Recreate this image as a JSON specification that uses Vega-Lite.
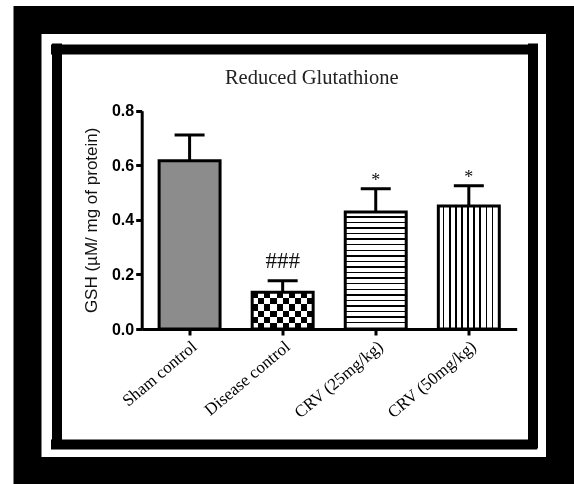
{
  "$schema": "https://vega.github.io/schema/vega-lite/v6.json",
  "width": 532.5,
  "height": 451,
  "autosize": {"type": "none"},
  "padding": {"left": 27.5, "top": 20, "right": 14, "bottom": 13},
  "background": "white",
  "title": {"text": "Reduced Glutathione", "font": "Liberation Serif", "fontSize": 20.5, "fontWeight": "normal", "color": "#222", "anchor": "middle", "frame": "group", "dx": 18, "offset": -84, "baseline": "alphabetic"},
  "data": {"values": [
    {"group": "Sham control", "mean": 0.617, "upper": 0.711, "sig": ""},
    {"group": "Disease control", "mean": 0.135, "upper": 0.177, "sig": "###"},
    {"group": "CRV (25mg/kg)", "mean": 0.429, "upper": 0.514, "sig": "*"},
    {"group": "CRV (50mg/kg)", "mean": 0.451, "upper": 0.525, "sig": "*"}
  ]},
  "layer": [
    {
      "encoding": {
        "x": {
          "field": "group", "type": "nominal", "sort": null, "title": null,
          "scale": {"type": "band", "domain": ["Sham control", "Disease control", "CRV (25mg/kg)", "CRV (50mg/kg)"], "range": [114.2, 489.2], "paddingInner": 0.345, "paddingOuter": 0.187},
          "axis": {"orient": "bottom", "offset": -142, "labelAngle": -40, "labelFont": "Liberation Serif", "labelFontSize": 17, "labelColor": "#000", "labelPadding": 3, "tickSize": 6, "tickWidth": 3, "tickColor": "#000", "domainColor": "#000", "domainWidth": 3, "grid": false, "title": null, "labelOverlap": false, "zindex": 1}
        }
      },
      "layer": [
        {
          "transform": [{"filter": "datum.group === 'Sham control'"}],
          "mark": {"type": "bar", "fill": "#8c8c8c"},
          "encoding": {"y": {"field": "mean", "type": "quantitative", "title": "GSH (µM/ mg of protein)",
            "scale": {"domain": [0, 0.8], "range": [309, 90.7], "nice": false, "zero": true},
            "axis": {"orient": "left", "offset": -114.2, "values": [0, 0.2, 0.4, 0.6, 0.8], "format": ".1f", "labelFont": "Liberation Sans", "labelFontWeight": "bold", "labelFontSize": 16, "labelColor": "#000", "labelPadding": 2, "tickSize": 6, "tickWidth": 3, "tickColor": "#000", "domainColor": "#000", "domainWidth": 3, "grid": false, "title": "GSH (µM/ mg of protein)", "titleFont": "Liberation Sans", "titleFontSize": 17, "titleFontWeight": "normal", "titleColor": "#111", "titlePadding": 11, "zindex": 1}}}
        },
        {
          "transform": [{"filter": "datum.group === 'Disease control'"}],
          "mark": {"type": "bar", "fill": {"gradient": "linear", "x1": 0, "y1": 0, "x2": 0, "y2": 1, "stops": [
            {"offset": 0, "color": "#000"}, {"offset": 0.1667, "color": "#000"}, {"offset": 0.1667, "color": "#fff"}, {"offset": 0.3333, "color": "#fff"},
            {"offset": 0.3333, "color": "#000"}, {"offset": 0.5, "color": "#000"}, {"offset": 0.5, "color": "#fff"}, {"offset": 0.6667, "color": "#fff"},
            {"offset": 0.6667, "color": "#000"}, {"offset": 0.8333, "color": "#000"}, {"offset": 0.8333, "color": "#fff"}, {"offset": 1, "color": "#fff"}]}},
          "encoding": {"y": {"field": "mean", "type": "quantitative", "title": "GSH (µM/ mg of protein)"}}
        },
        {
          "transform": [{"filter": "datum.group === 'Disease control'"}],
          "mark": {"type": "bar", "blend": "difference", "fill": {"gradient": "linear", "x1": 0, "y1": 0, "x2": 1, "y2": 0, "stops": [
            {"offset": 0, "color": "#000"}, {"offset": 0.1, "color": "#000"}, {"offset": 0.1, "color": "#fff"}, {"offset": 0.2, "color": "#fff"},
            {"offset": 0.2, "color": "#000"}, {"offset": 0.3, "color": "#000"}, {"offset": 0.3, "color": "#fff"}, {"offset": 0.4, "color": "#fff"},
            {"offset": 0.4, "color": "#000"}, {"offset": 0.5, "color": "#000"}, {"offset": 0.5, "color": "#fff"}, {"offset": 0.6, "color": "#fff"},
            {"offset": 0.6, "color": "#000"}, {"offset": 0.7, "color": "#000"}, {"offset": 0.7, "color": "#fff"}, {"offset": 0.8, "color": "#fff"},
            {"offset": 0.8, "color": "#000"}, {"offset": 0.9, "color": "#000"}, {"offset": 0.9, "color": "#fff"}, {"offset": 1, "color": "#fff"}]}},
          "encoding": {"y": {"field": "mean", "type": "quantitative", "title": "GSH (µM/ mg of protein)"}}
        },
        {
          "transform": [{"filter": "datum.group === 'CRV (25mg/kg)'"}],
          "mark": {"type": "bar", "fill": {"gradient": "linear", "x1": 0, "y1": 0, "x2": 0, "y2": 1, "stops": [
            {"offset": 0, "color": "#fff"},
            {"offset": 0.036, "color": "#fff"}, {"offset": 0.036, "color": "#000"}, {"offset": 0.048, "color": "#000"}, {"offset": 0.048, "color": "#fff"},
            {"offset": 0.083, "color": "#fff"}, {"offset": 0.083, "color": "#000"}, {"offset": 0.095, "color": "#000"}, {"offset": 0.095, "color": "#fff"},
            {"offset": 0.131, "color": "#fff"}, {"offset": 0.131, "color": "#000"}, {"offset": 0.143, "color": "#000"}, {"offset": 0.143, "color": "#fff"},
            {"offset": 0.179, "color": "#fff"}, {"offset": 0.179, "color": "#000"}, {"offset": 0.19, "color": "#000"}, {"offset": 0.19, "color": "#fff"},
            {"offset": 0.226, "color": "#fff"}, {"offset": 0.226, "color": "#000"}, {"offset": 0.238, "color": "#000"}, {"offset": 0.238, "color": "#fff"},
            {"offset": 0.274, "color": "#fff"}, {"offset": 0.274, "color": "#000"}, {"offset": 0.286, "color": "#000"}, {"offset": 0.286, "color": "#fff"},
            {"offset": 0.321, "color": "#fff"}, {"offset": 0.321, "color": "#000"}, {"offset": 0.333, "color": "#000"}, {"offset": 0.333, "color": "#fff"},
            {"offset": 0.369, "color": "#fff"}, {"offset": 0.369, "color": "#000"}, {"offset": 0.381, "color": "#000"}, {"offset": 0.381, "color": "#fff"},
            {"offset": 0.417, "color": "#fff"}, {"offset": 0.417, "color": "#000"}, {"offset": 0.429, "color": "#000"}, {"offset": 0.429, "color": "#fff"},
            {"offset": 0.464, "color": "#fff"}, {"offset": 0.464, "color": "#000"}, {"offset": 0.476, "color": "#000"}, {"offset": 0.476, "color": "#fff"},
            {"offset": 0.512, "color": "#fff"}, {"offset": 0.512, "color": "#000"}, {"offset": 0.524, "color": "#000"}, {"offset": 0.524, "color": "#fff"},
            {"offset": 0.56, "color": "#fff"}, {"offset": 0.56, "color": "#000"}, {"offset": 0.571, "color": "#000"}, {"offset": 0.571, "color": "#fff"},
            {"offset": 0.607, "color": "#fff"}, {"offset": 0.607, "color": "#000"}, {"offset": 0.619, "color": "#000"}, {"offset": 0.619, "color": "#fff"},
            {"offset": 0.655, "color": "#fff"}, {"offset": 0.655, "color": "#000"}, {"offset": 0.667, "color": "#000"}, {"offset": 0.667, "color": "#fff"},
            {"offset": 0.702, "color": "#fff"}, {"offset": 0.702, "color": "#000"}, {"offset": 0.714, "color": "#000"}, {"offset": 0.714, "color": "#fff"},
            {"offset": 0.75, "color": "#fff"}, {"offset": 0.75, "color": "#000"}, {"offset": 0.762, "color": "#000"}, {"offset": 0.762, "color": "#fff"},
            {"offset": 0.798, "color": "#fff"}, {"offset": 0.798, "color": "#000"}, {"offset": 0.81, "color": "#000"}, {"offset": 0.81, "color": "#fff"},
            {"offset": 0.845, "color": "#fff"}, {"offset": 0.845, "color": "#000"}, {"offset": 0.857, "color": "#000"}, {"offset": 0.857, "color": "#fff"},
            {"offset": 0.893, "color": "#fff"}, {"offset": 0.893, "color": "#000"}, {"offset": 0.905, "color": "#000"}, {"offset": 0.905, "color": "#fff"},
            {"offset": 0.94, "color": "#fff"}, {"offset": 0.94, "color": "#000"}, {"offset": 0.952, "color": "#000"}, {"offset": 0.952, "color": "#fff"},
            {"offset": 0.988, "color": "#fff"}, {"offset": 0.988, "color": "#000"}, {"offset": 1, "color": "#000"}]}},
          "encoding": {"y": {"field": "mean", "type": "quantitative", "title": "GSH (µM/ mg of protein)"}}
        },
        {
          "transform": [{"filter": "datum.group === 'CRV (50mg/kg)'"}],
          "mark": {"type": "bar", "fill": {"gradient": "linear", "x1": 0, "y1": 0, "x2": 1, "y2": 0, "stops": [
            {"offset": 0, "color": "#fff"},
            {"offset": 0.075, "color": "#fff"}, {"offset": 0.075, "color": "#000"}, {"offset": 0.1, "color": "#000"}, {"offset": 0.1, "color": "#fff"},
            {"offset": 0.175, "color": "#fff"}, {"offset": 0.175, "color": "#000"}, {"offset": 0.2, "color": "#000"}, {"offset": 0.2, "color": "#fff"},
            {"offset": 0.275, "color": "#fff"}, {"offset": 0.275, "color": "#000"}, {"offset": 0.3, "color": "#000"}, {"offset": 0.3, "color": "#fff"},
            {"offset": 0.375, "color": "#fff"}, {"offset": 0.375, "color": "#000"}, {"offset": 0.4, "color": "#000"}, {"offset": 0.4, "color": "#fff"},
            {"offset": 0.475, "color": "#fff"}, {"offset": 0.475, "color": "#000"}, {"offset": 0.5, "color": "#000"}, {"offset": 0.5, "color": "#fff"},
            {"offset": 0.575, "color": "#fff"}, {"offset": 0.575, "color": "#000"}, {"offset": 0.6, "color": "#000"}, {"offset": 0.6, "color": "#fff"},
            {"offset": 0.675, "color": "#fff"}, {"offset": 0.675, "color": "#000"}, {"offset": 0.7, "color": "#000"}, {"offset": 0.7, "color": "#fff"},
            {"offset": 0.775, "color": "#fff"}, {"offset": 0.775, "color": "#000"}, {"offset": 0.8, "color": "#000"}, {"offset": 0.8, "color": "#fff"},
            {"offset": 0.875, "color": "#fff"}, {"offset": 0.875, "color": "#000"}, {"offset": 0.9, "color": "#000"}, {"offset": 0.9, "color": "#fff"},
            {"offset": 0.975, "color": "#fff"}, {"offset": 0.975, "color": "#000"}, {"offset": 1, "color": "#000"}]}},
          "encoding": {"y": {"field": "mean", "type": "quantitative", "title": "GSH (µM/ mg of protein)"}}
        },
        {
          "mark": {"type": "bar", "filled": false, "color": "#000", "strokeWidth": 3},
          "encoding": {"y": {"field": "mean", "type": "quantitative", "title": "GSH (µM/ mg of protein)"}}
        },
        {
          "mark": {"type": "rule", "color": "#000", "strokeWidth": 3},
          "encoding": {"y": {"field": "mean", "type": "quantitative", "title": "GSH (µM/ mg of protein)"}, "y2": {"field": "upper"}}
        },
        {
          "mark": {"type": "tick", "orient": "horizontal", "size": 30, "thickness": 3, "color": "#000", "opacity": 1},
          "encoding": {"y": {"field": "upper", "type": "quantitative", "title": "GSH (µM/ mg of protein)"}}
        },
        {
          "transform": [{"filter": "datum.sig === '###'"}],
          "mark": {"type": "text", "font": "Liberation Serif", "fontSize": 23, "baseline": "alphabetic", "dy": -13, "color": "#111"},
          "encoding": {"y": {"field": "upper", "type": "quantitative", "title": "GSH (µM/ mg of protein)"}, "text": {"field": "sig"}}
        },
        {
          "transform": [{"filter": "datum.sig === '*'"}],
          "mark": {"type": "text", "font": "Liberation Serif", "fontSize": 18, "baseline": "alphabetic", "dy": -3, "color": "#111"},
          "encoding": {"y": {"field": "upper", "type": "quantitative", "title": "GSH (µM/ mg of protein)"}, "text": {"field": "sig"}}
        }
      ]
    },
    {
      "mark": {"type": "point", "opacity": 0},
      "encoding": {
        "x": {"datum": 0, "type": "quantitative", "scale": {"domain": [-0.7415, 4.979], "nice": false, "zero": false},
          "axis": {"orient": "top", "values": [-0.435, 4.679], "grid": true, "gridColor": "#000", "gridWidth": 10, "gridOpacity": 1, "gridDash": [405, 46], "gridDashOffset": 428, "domain": false, "ticks": false, "labels": false, "title": null}},
        "y": {"datum": 0, "type": "quantitative", "scale": {"domain": [-0.5203, 1.1323], "nice": false, "zero": false},
          "axis": {"orient": "right", "values": [1.026, -0.4214], "grid": true, "gridColor": "#000", "gridWidth": 10, "gridOpacity": 1, "gridDash": [486, 46.5], "gridDashOffset": 509, "domain": false, "ticks": false, "labels": false, "title": null}}
      }
    }
  ],
  "resolve": {"scale": {"x": "independent", "y": "independent"}, "axis": {"x": "independent", "y": "independent"}},
  "config": {
    "view": {"fill": "white", "stroke": "black", "strokeWidth": 28, "strokeOpacity": 1}
  }
}
